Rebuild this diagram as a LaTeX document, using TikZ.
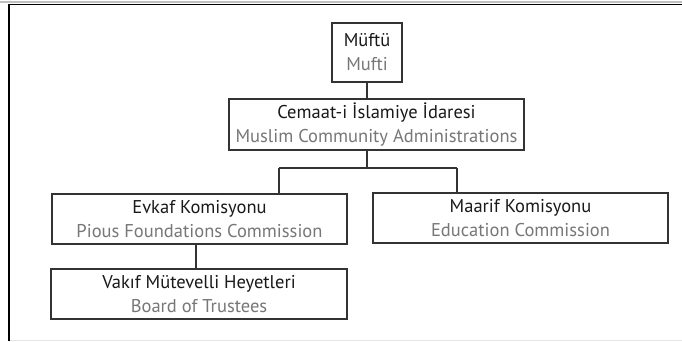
\documentclass[tikz,border=0pt]{standalone}
\usepackage{fontspec}
\setmainfont{PT Sans}
\begin{document}
\begin{tikzpicture}[x=1pt,y=-1pt,
  orgbox/.style={draw=black!80, line width=1.1pt, fill=white, align=center, inner sep=0pt,
    font=\fontsize{18.5}{24}\selectfont, text=black!90},
  link/.style={draw=black!80, line width=1.1pt},
  frameline/.style={draw=black, line width=1.5pt}]
\useasboundingbox (0,0) rectangle (682,341);
\definecolor{subgrey}{HTML}{777777}
% outer frame (cropped)
\draw[draw=black!25, line width=1.2pt] (0,2) -- (682,2);
\draw[draw=black!10, line width=1pt] (9,340.5) -- (682,340.5);
\draw[frameline] (9,341) -- (9,4.5) -- (682,4.5);
% boxes
\node[orgbox, minimum width=70pt, minimum height=59pt] (muf) at (367,52.5)
  {Müftü\\\textcolor{subgrey}{Mufti}};
\node[orgbox, minimum width=295pt, minimum height=51pt] (cem) at (376.5,124.5)
  {Cemaat-i İslamiye İdaresi\\\textcolor{subgrey}{Muslim Community Administrations}};
\node[orgbox, minimum width=295pt, minimum height=50pt] (evk) at (199.5,219)
  {Evkaf Komisyonu\\\textcolor{subgrey}{Pious Foundations Commission}};
\node[orgbox, minimum width=295pt, minimum height=50pt] (maa) at (520.5,218)
  {Maarif Komisyonu\\\textcolor{subgrey}{Education Commission}};
\node[orgbox, minimum width=296pt, minimum height=50pt] (vak) at (199,294)
  {Vakıf Mütevelli Heyetleri\\\textcolor{subgrey}{Board of Trustees}};
% connectors
\coordinate (bc) at (367,168);
\coordinate (bl) at (279,168);
\coordinate (br) at (457,168);
\draw[link] (muf.south) -- (muf.south |- cem.north);
\draw[link] (cem.south -| bc) -- (bc);
\draw[link] (bl) -- (br);
\draw[link] (bl) -- (bl |- evk.north);
\draw[link] (br) -- (br |- maa.north);
\draw[link] (evk.south -| 196,0) -- (vak.north -| 196,0);
\end{tikzpicture}
\end{document}
